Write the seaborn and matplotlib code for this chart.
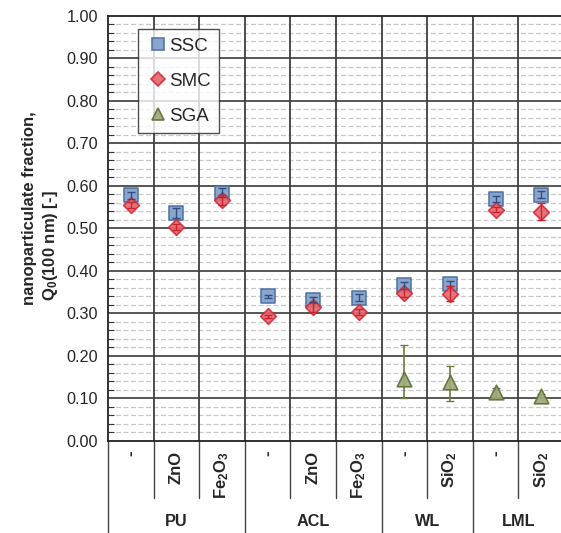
import numpy as np
import pandas as pd
import matplotlib
matplotlib.use("Agg")
import matplotlib.pyplot as plt
import seaborn as sns
from matplotlib.lines import Line2D
from matplotlib.ticker import MultipleLocator

# ---- data ----
sub_labels = ["-", "ZnO", r"Fe$_2$O$_3$", "-", "ZnO", r"Fe$_2$O$_3$", "-", r"SiO$_2$", "-", r"SiO$_2$"]
groups = ["PU", "ACL", "WL", "LML"]
group_sizes = [3, 3, 2, 2]
y_ticks = [0.0, 0.1, 0.2, 0.3, 0.4, 0.5, 0.6, 0.7, 0.8, 0.9, 1.0]

ssc = [0.578, 0.537, 0.584, 0.340, 0.332, 0.337, 0.366, 0.370, 0.569, 0.579]
ssc_err = [0.008, 0.012, 0.010, 0.004, 0.006, 0.008, 0.008, 0.006, 0.006, 0.008]
smc = [0.556, 0.503, 0.566, 0.293, 0.314, 0.303, 0.348, 0.346, 0.544, 0.539]
smc_err = [0.007, 0.008, 0.012, 0.004, 0.010, 0.008, 0.010, 0.018, 0.006, 0.020]
sga_idx = [6, 7, 8, 9]
sga = [0.145, 0.139, 0.114, 0.105]
sga_err_lo = [0.044, 0.046, 0.010, 0.004]
sga_err_hi = [0.081, 0.036, 0.010, 0.004]

series_names = ["SSC", "SMC", "SGA"]

rows = []
for i, v in enumerate(ssc):
    rows.append(dict(x=i, y=v, series="SSC"))
for i, v in enumerate(smc):
    rows.append(dict(x=i, y=v, series="SMC"))
for i, v in zip(sga_idx, sga):
    rows.append(dict(x=i, y=v, series="SGA"))
df = pd.DataFrame(rows)

fills = {"SSC": "#7f9cc7", "SMC": "#e2666e", "SGA": "#9aa97a"}
edges = {"SSC": "#4a6ea3", "SMC": "#d32a35", "SGA": "#5d6f36"}
errc = {"SSC": "#2f4f80", "SMC": "#d0202c", "SGA": "#6b7d3a"}
markers = {"SSC": "s", "SMC": "D", "SGA": "^"}
sizes = {"SSC": 9.5, "SMC": 8.0, "SGA": 10.5}

sns.set_style("white")
plt.rcParams["font.family"] = ["Liberation Sans", "DejaVu Sans"]
plt.rcParams["mathtext.fontset"] = "custom"
plt.rcParams["mathtext.rm"] = "Liberation Sans:bold"
plt.rcParams["mathtext.it"] = "Liberation Sans:bold"
plt.rcParams["mathtext.bf"] = "Liberation Sans:bold"

W, H = 561, 533
fig = plt.figure(figsize=(W / 100, H / 100), dpi=100)
ax = fig.add_axes([108 / W, 92.3 / H, 456 / W, 424.7 / H])

# grid
for v in np.arange(0.02, 1.0, 0.02):
    if abs(v * 10 - round(v * 10)) > 1e-6:
        ax.axhline(v, color="#c8c8c8", lw=0.9, ls=(0, (4, 2)), zorder=0)
for v in y_ticks[1:-1]:
    ax.axhline(v, color="#3a3a3a", lw=1.2, zorder=1)
for k in range(1, 10):
    ax.axvline(k - 0.5, color="#404040", lw=1.3, zorder=1)

# error bars (under markers)
ax.errorbar(sga_idx, sga, yerr=[sga_err_lo, sga_err_hi], fmt="none", ecolor=errc["SGA"], elinewidth=1.2, capsize=3, zorder=3)

for name in series_names:
    sub = df[df.series == name]
    sns.scatterplot(data=sub, x="x", y="y", marker=markers[name], color=fills[name],
                    edgecolor=edges[name], linewidth=1.2, s=sizes[name] ** 2, alpha=0.9,
                    ax=ax, zorder=4, legend=False)

# error bars on top of markers
ax.errorbar(range(10), ssc, yerr=ssc_err, fmt="none", ecolor=errc["SSC"], elinewidth=1.0, capsize=3, zorder=6)
ax.errorbar(range(10), smc, yerr=smc_err, fmt="none", ecolor=errc["SMC"], elinewidth=1.0, capsize=3, zorder=6)

ax.set_xlim(-0.5, 9.5)
ax.set_ylim(0, 1.0)
ax.yaxis.set_minor_locator(MultipleLocator(0.02))
ax.set_yticks(y_ticks)
ax.set_yticklabels([f"{v:.2f}" for v in y_ticks], fontsize=11.7)
ax.tick_params(axis="y", which="major", direction="in", length=0, pad=7)
ax.tick_params(axis="y", which="minor", direction="in", length=4, width=0.8, color="#333333", left=True)
ax.set_xticks([])
ax.set_xlabel("")
ax.set_ylabel("")
for s in ax.spines.values():
    s.set_color("#222222")
    s.set_linewidth(1.3)

# y-axis label (two lines)
fig.text(30 / W, 1 - 208 / H, "nanoparticulate fraction,", rotation=90, ha="center", va="center",
         fontsize=12, fontweight="bold")
fig.text(50 / W, 1 - 246 / H, r"Q$_0$(100 nm) [-]", rotation=90, ha="center", va="center",
         fontsize=12, fontweight="bold")

# category labels below
trans = ax.get_xaxis_transform()
for i, lab in enumerate(sub_labels):
    ax.text(i, -0.024, lab, rotation=90, ha="center", va="top", fontsize=12, fontweight="bold",
            transform=trans, clip_on=False)

bounds = np.cumsum([0] + group_sizes)
for k in range(1, 10):
    if k in bounds:
        continue
    ax.add_line(Line2D([k - 0.5, k - 0.5], [0, -0.135], transform=trans, color="#444444", lw=1.0, clip_on=False))
for b in bounds[:-1]:
    ax.add_line(Line2D([b - 0.5, b - 0.5], [0, -0.25], transform=trans, color="#444444", lw=1.0, clip_on=False))
for g, a, b in zip(groups, bounds[:-1], bounds[1:]):
    ax.text((a + b - 1) / 2, -(521 - 440.7) / 424.7, g, ha="center", va="center", fontsize=11.7,
            fontweight="bold", transform=trans, clip_on=False)

# legend
handles = [Line2D([], [], ls="none", marker=markers[n], markerfacecolor=fills[n], markeredgecolor=edges[n],
                  markersize={"SSC": 8, "SMC": 7, "SGA": 9}[n], markeredgewidth=1.2, alpha=0.9)
           for n in series_names]
leg = ax.legend(handles, series_names, loc="upper left",
                bbox_to_anchor=((138.3 - 108) / 456, 1 - (29.3 - 16) / 424.7),
                frameon=True, fancybox=False, edgecolor="#222222", fontsize=13.5, labelspacing=0.95,
                handletextpad=0.05, handlelength=1.15, borderpad=0.45, borderaxespad=0)
leg.get_frame().set_linewidth(1.0)
leg.set_zorder(10)

fig.savefig("out.png", dpi=100)
